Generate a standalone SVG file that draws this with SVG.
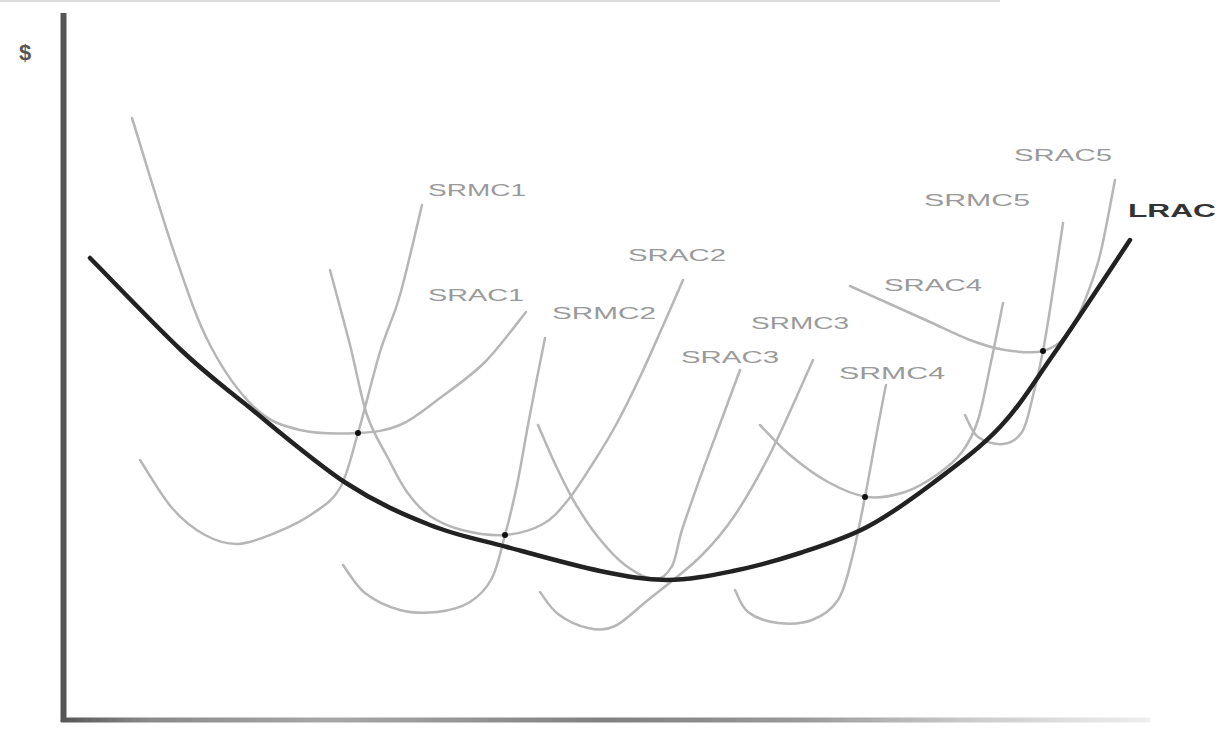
<svg xmlns="http://www.w3.org/2000/svg" width="1220" height="733" viewBox="0 0 1220 733">
<defs>
<style>
.c{fill:none;stroke:#b6b6b6;stroke-width:2.5;stroke-linecap:round;stroke-linejoin:round}
.lbl{font-family:"Liberation Sans",Arial,sans-serif;font-size:17px;fill:#9a9a9a}
.dot{fill:#111}
</style>
<linearGradient id="xg" x1="60" y1="0" x2="1150" y2="0" gradientUnits="userSpaceOnUse">
<stop offset="0" stop-color="#555"/>
<stop offset="0.08" stop-color="#8a8a8a"/>
<stop offset="0.25" stop-color="#a8a8a8"/>
<stop offset="0.5" stop-color="#808080"/>
<stop offset="0.68" stop-color="#9a9a9a"/>
<stop offset="0.85" stop-color="#cfcfcf"/>
<stop offset="1" stop-color="#eeeeee"/>
</linearGradient>
</defs>
<rect width="1220" height="733" fill="#fff"/>
<line x1="0" y1="1" x2="1000" y2="1" stroke="#dcdcdc" stroke-width="2"/>
<g id="axes">
<line x1="63.5" y1="13" x2="63.5" y2="722" stroke="#555" stroke-width="6"/>
<line x1="61" y1="720" x2="1150" y2="720" stroke="url(#xg)" stroke-width="5"/>
<text x="25" y="60" text-anchor="middle" style="font-family:'Liberation Sans',Arial,sans-serif;font-size:22px;font-weight:bold;fill:#555">$</text>
</g>
<g id="connectors">
<path id="srac1" class="c" d="M132,118 C139.2,140.8 162,217.2 175,255 C188,292.8 196.7,319.5 210,345 C223.3,370.5 240,393.8 255,408 C270,422.2 282.8,425.8 300,430 C317.2,434.2 341.3,433.8 358,433 C374.7,432.2 386.3,430.8 400,425 C413.7,419.2 425.8,408.5 440,398 C454.2,387.5 470.7,376.3 485,362 C499.3,347.7 519.2,320.3 526,312"/>
<path id="srmc1" class="c" d="M140,460 C145.3,468 161.2,495.5 172,508 C182.8,520.5 194,529 205,535 C216,541 226.3,544.3 238,544 C249.7,543.7 262.7,538 275,533 C287.3,528 301.2,521.5 312,514 C322.8,506.5 332.3,501.5 340,488 C347.7,474.5 351.3,455.7 358,433 C364.7,410.3 373,375 380,352 C387,329 393,319.5 400,295 C407,270.5 418.3,220 422,205"/>
<path id="srac2" class="c" d="M330,270 C333.3,282.5 343.8,320.8 350,345 C356.2,369.2 360.7,396.2 367,415 C373.3,433.8 381.3,445.2 388,458 C394.7,470.8 400,482.3 407,492 C414,501.7 420.8,509.7 430,516 C439.2,522.3 449.5,526.8 462,530 C474.5,533.2 491.5,536 505,535 C518.5,534 532.5,529.8 543,524 C553.5,518.2 559.3,510.7 568,500 C576.7,489.3 586.8,472.8 595,460 C603.2,447.2 609.5,436.8 617,423 C624.5,409.2 632.5,392.8 640,377 C647.5,361.2 654.8,344.2 662,328 C669.2,311.8 679.5,288 683,280"/>
<path id="srmc2" class="c" d="M343,565 C346.7,569.7 355.5,585.5 365,593 C374.5,600.5 388,606.8 400,610 C412,613.2 425.3,613.3 437,612 C448.7,610.7 460.8,607.7 470,602 C479.2,596.3 486.2,589.2 492,578 C497.8,566.8 500.8,550.5 505,535 C509.2,519.5 513.2,503.3 517,485 C520.8,466.7 524.7,442.8 528,425 C531.3,407.2 534.2,392.5 537,378 C539.8,363.5 543.7,344.7 545,338"/>
<path id="srac3" class="c" d="M538,425 C541,431.8 549.8,453 556,466 C562.2,479 568,491.2 575,503 C582,514.8 589.7,526.7 598,537 C606.3,547.3 615.5,558 625,565 C634.5,572 647.2,578.8 655,579 C662.8,579.2 667.5,574.2 672,566 C676.5,557.8 677.3,544.7 682,530 C686.7,515.3 693.7,495.7 700,478 C706.3,460.3 713.3,442 720,424 C726.7,406 736.7,379 740,370"/>
<path id="srmc3" class="c" d="M540,592 C543,595.7 550,608 558,614 C566,620 578.5,626 588,628 C597.5,630 605,630.7 615,626 C625,621.3 633.8,611.5 648,600 C662.2,588.5 685.5,571.2 700,557 C714.5,542.8 723,532.8 735,515 C747,497.2 759,475.8 772,450 C785,424.2 806.2,375 813,360"/>
<path id="srac4" class="c" d="M760,425 C765,430 778.7,445.5 790,455 C801.3,464.5 815.2,475 828,482 C840.8,489 854.2,495.3 867,497 C879.8,498.7 893.2,495.8 905,492 C916.8,488.2 928.5,480.7 938,474 C947.5,467.3 955.3,461 962,452 C968.7,443 973.2,435 978,420 C982.8,405 986.8,381.5 991,362 C995.2,342.5 1001,312.8 1003,303"/>
<path id="srmc4" class="c" d="M735,590 C737.2,593.7 740.8,606.5 748,612 C755.2,617.5 767.3,621.7 778,623 C788.7,624.3 802,623.8 812,620 C822,616.2 831.3,610.3 838,600 C844.7,589.7 847.5,575.2 852,558 C856.5,540.8 861,517.2 865,497 C869,476.8 872.3,456.8 876,437 C879.7,417.2 884.2,393 886,385"/>
<path id="srac5" class="c" d="M850,286 C856.7,289 876.7,298 890,304 C903.3,310 916.7,316 930,322 C943.3,328 957.5,335.3 970,340 C982.5,344.7 992.8,348.2 1005,350 C1017.2,351.8 1032.5,353.7 1043,351 C1053.5,348.3 1061,342.5 1068,334 C1075,325.5 1079.7,313.2 1085,300 C1090.3,286.8 1095,275 1100,255 C1105,235 1112.5,192.5 1115,180"/>
<path id="srmc5" class="c" d="M965,415 C967.2,418.7 971.7,432.2 978,437 C984.3,441.8 995.7,444.8 1003,444 C1010.3,443.2 1017.2,439.3 1022,432 C1026.8,424.7 1028.5,413.5 1032,400 C1035.5,386.5 1039.5,369.3 1043,351 C1046.5,332.7 1049.7,311.3 1053,290 C1056.3,268.7 1061.3,234.2 1063,223"/>
<path id="lrac" fill="none" stroke="#222" stroke-width="4.5" stroke-linecap="round" d="M90,258 C105.2,273.3 155.3,325.8 181,350 C206.7,374.2 216.5,380.8 244,403 C271.5,425.2 315,462.7 346,483 C377,503.3 403.2,514.3 430,525 C456.8,535.7 478.7,539.3 507,547 C535.3,554.7 573.3,565.5 600,571 C626.7,576.5 644.8,580 667,580 C689.2,580 710.8,575.5 733,571 C755.2,566.5 777.7,560.3 800,553 C822.3,545.7 844.8,538.7 867,527 C889.2,515.3 910.8,499.7 933,483 C955.2,466.3 980,448.3 1000,427 C1020,405.7 1031.3,386.2 1053,355 C1074.7,323.8 1117.2,259.2 1130,240"/>
</g>
<g id="points">
<circle class="dot" cx="358" cy="433" r="3"/>
<circle class="dot" cx="505" cy="535" r="3"/>
<circle class="dot" cx="865" cy="497" r="3"/>
<circle class="dot" cx="1043" cy="351" r="3"/>
</g>
<g id="labels">
<text id="l-srmc1" class="lbl" x="428" y="196" textLength="98" lengthAdjust="spacingAndGlyphs">SRMC1</text>
<text id="l-srac1" class="lbl" x="428" y="301" textLength="96" lengthAdjust="spacingAndGlyphs">SRAC1</text>
<text id="l-srac2" class="lbl" x="628" y="261" textLength="98" lengthAdjust="spacingAndGlyphs">SRAC2</text>
<text id="l-srmc2" class="lbl" x="552" y="319" textLength="104" lengthAdjust="spacingAndGlyphs">SRMC2</text>
<text id="l-srmc3" class="lbl" x="751" y="329" textLength="98" lengthAdjust="spacingAndGlyphs">SRMC3</text>
<text id="l-srac3" class="lbl" x="681" y="363" textLength="98" lengthAdjust="spacingAndGlyphs">SRAC3</text>
<text id="l-srmc4" class="lbl" x="839" y="379" textLength="106" lengthAdjust="spacingAndGlyphs">SRMC4</text>
<text id="l-srac4" class="lbl" x="884" y="291" textLength="98" lengthAdjust="spacingAndGlyphs">SRAC4</text>
<text id="l-srmc5" class="lbl" x="924" y="206" textLength="106" lengthAdjust="spacingAndGlyphs">SRMC5</text>
<text id="l-srac5" class="lbl" x="1014" y="161" textLength="98" lengthAdjust="spacingAndGlyphs">SRAC5</text>
<text id="l-lrac" x="1128" y="217" textLength="88" lengthAdjust="spacingAndGlyphs" style="font-family:'Liberation Sans',Arial,sans-serif;font-size:19px;font-weight:bold;fill:#333">LRAC</text>
</g>
</svg>
